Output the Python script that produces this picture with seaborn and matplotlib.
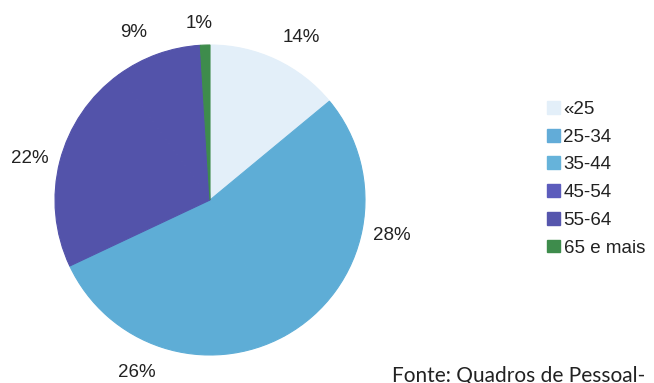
import matplotlib
matplotlib.use("Agg")
import matplotlib.pyplot as plt
import seaborn as sns

# age groups and shares (%)
groups = ["«25", "25-34", "35-44", "45-54", "55-64", "65 e mais"]
shares = [14, 28, 26, 22, 9, 1]
colours = ["#e3eff9", "#5eadd6", "#5eadd6", "#5353aa", "#5353aa", "#3e8c4c"]
legend_colours = ["#e3eff9", "#62acd8", "#66b3da", "#5c5cbc", "#5656ad", "#3e8c4c"]
source_note = "Fonte: Quadros de Pessoal-"

# where the percentage labels sit (axes data units, pie radius = 1)
label_pos = [(0.59, 1.05), (1.17, -0.23), (-0.47, -1.11),
             (-1.16, 0.27), (-0.49, 1.08), (-0.07, 1.14)]

sns.set_style("white")
plt.rcParams['font.family'] = ['Liberation Sans', 'Arial', 'DejaVu Sans']

fig = plt.figure(figsize=(6.54, 3.83), dpi=100)
# pie centre ~ (210, 200) px, radius ~155 px
ax = fig.add_axes([55 / 654, 28 / 383, 310 / 654, 310 / 383])
pal = sns.color_palette(colours)

wedges, texts, autotexts = ax.pie(
    shares, colors=pal, startangle=90, counterclock=False,
    autopct=lambda p: "%d%%" % round(p), pctdistance=1.2,
    wedgeprops=dict(linewidth=0.8), radius=1,
    textprops=dict(fontsize=13.5, color="#222222"))
# hide seams between neighbouring wedges of the same colour
for w in wedges:
    w.set_edgecolor(w.get_facecolor())
for t, pos in zip(autotexts, label_pos):
    t.set_position(pos)
ax.set_xlim(-1, 1)
ax.set_ylim(-1, 1)
ax.set_aspect("equal")
ax.axis("off")

handles = [plt.Rectangle((0, 0), 1, 1, color=c) for c in sns.color_palette(legend_colours)]
leg = fig.legend(handles, groups, loc="upper left",
                 bbox_to_anchor=(547 / 654, 1 - 101 / 383),
                 frameon=False, fontsize=13.5, handlelength=0.68,
                 handleheight=0.68, handletextpad=0.2, labelspacing=0.57,
                 borderaxespad=0, borderpad=0)
for t in leg.get_texts():
    t.set_color("#222222")

# source line runs off the bottom/right edge, as in the original scan
fig.text(392 / 654, 1 / 383, source_note, fontsize=15, family=["Lato", "DejaVu Sans"],
         color="#222222", ha="left", va="baseline")

fig.savefig("out.png", dpi=100)
